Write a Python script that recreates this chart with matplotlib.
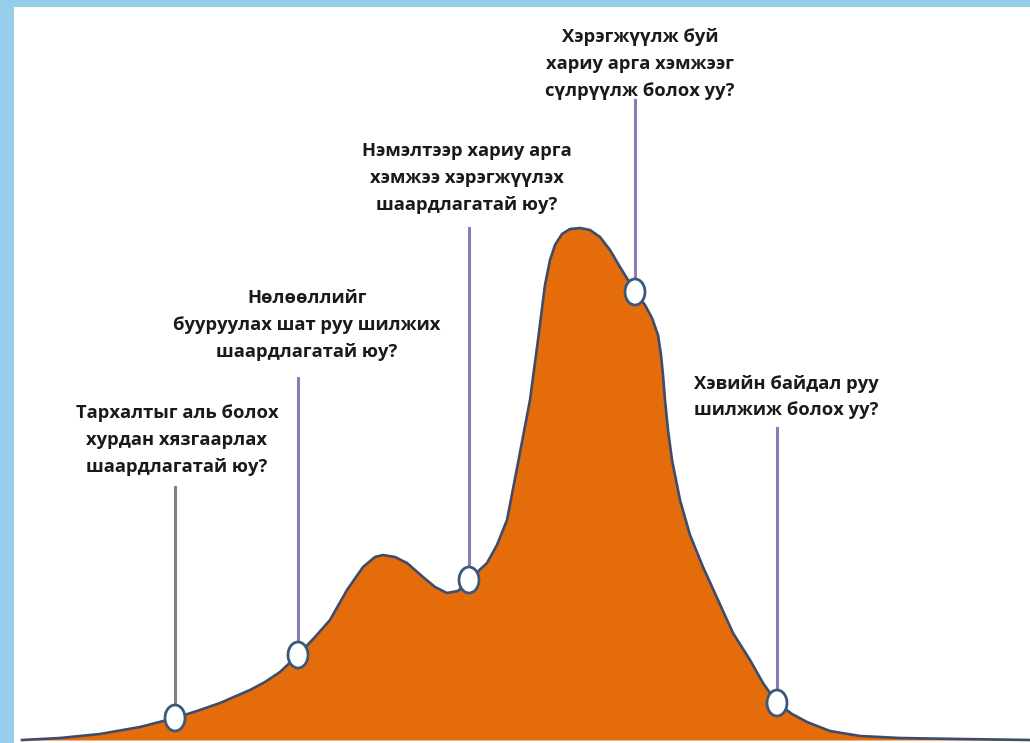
import matplotlib.pyplot as plt
from matplotlib.patches import Ellipse, Rectangle

# outbreak curve (x position, height above baseline)
curve_x = [22, 60, 100, 140, 175, 200, 220, 250, 265, 280, 298, 315, 330, 347, 363,
           375, 383, 395, 407, 423, 435, 447, 458, 469, 487, 497, 507, 518, 530, 538,
           545, 550, 555, 562, 570, 580, 590, 600, 610, 620, 628, 635, 645, 652, 658,
           661, 663, 665, 668, 672, 680, 690, 703, 718, 733, 750, 763, 777, 792, 807,
           830, 860, 900, 960, 1030]
curve_h = [0, 2, 6, 13, 22, 30, 37, 50, 58, 68, 85, 103, 120, 150, 173,
           183, 185, 183, 177, 163, 153, 147, 149, 160, 177, 195, 220, 277, 340, 400,
           455, 480, 495, 506, 511, 512, 510, 503, 490, 473, 460, 448, 435, 422, 405,
           385, 365, 340, 310, 280, 240, 205, 173, 140, 107, 80, 57, 37, 26, 18,
           9, 4, 2, 1, 0]

# decision points on the curve
point_x = [175, 298, 469, 635, 777]
point_h = [22, 85, 160, 448, 37]
stem_top = [253, 362, 512, 640, 312]
stem_colors = ['#7f7f86', '#8d7bb5', '#8d7bb5', '#8d7bb5', '#8d7bb5']

questions = [
    'Тархалтыг аль болох\nхурдан хязгаарлах\nшаардлагатай юу?',
    'Нөлөөллийг\nбууруулах шат руу шилжих\nшаардлагатай юу?',
    'Нэмэлтээр хариу арга\nхэмжээ хэрэгжүүлэх\nшаардлагатай юу?',
    'Хэрэгжүүлж буй\nхариу арга хэмжээг\nсүлрүүлж болох уу?',
    'Хэвийн байдал руу\nшилжиж болох уу?',
]
label_x = [177, 307, 467, 640, 786]
label_h = [300, 415, 562, 676, 343]

fig = plt.figure(figsize=(10.3, 7.43), dpi=100)
fig.patch.set_facecolor('#96cdeb')
# white panel inside the blue frame
fig.add_artist(Rectangle((14 / 1030, 0), 1016 / 1030, 736 / 743,
                         transform=fig.transFigure, facecolor='white', lw=0, zorder=0))
ax = fig.add_axes([14 / 1030, 0, 1016 / 1030, 736 / 743])
ax.set_xlim(14, 1030)
ax.set_ylim(-3, 733)
ax.axis('off')

ax.fill_between(curve_x, 0, curve_h, color='#e46c0a', lw=0, zorder=1)
ax.plot(curve_x, curve_h, color='#3c4c6a', lw=1.9, solid_joinstyle='round', zorder=2)

for x, h, top, c in zip(point_x, point_h, stem_top, stem_colors):
    ax.plot([x, x], [h + 12, top], color=c, lw=2.2, zorder=3)
    ax.add_patch(Ellipse((x, h), 20, 26, facecolor='white', edgecolor='#3c5878',
                         lw=2.0, zorder=4))

for txt, x, h in zip(questions, label_x, label_h):
    ax.text(x, h, txt, ha='center', va='center', fontsize=13.2, fontweight='bold',
            family='Open Sans', color='#1a1a1a', linespacing=1.62, zorder=5)

fig.savefig('out.png', dpi=100, facecolor=fig.get_facecolor())
